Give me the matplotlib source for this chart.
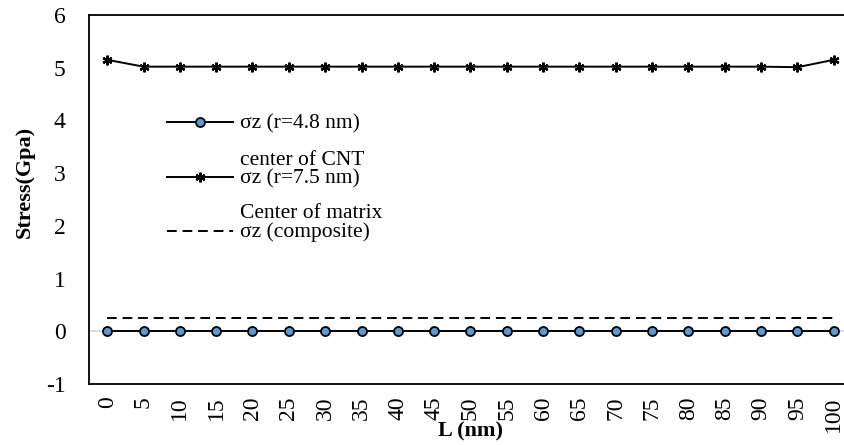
import matplotlib
matplotlib.use("Agg")
import matplotlib.pyplot as plt
from matplotlib.lines import Line2D

L_nm = [0, 5, 10, 15, 20, 25, 30, 35, 40, 45, 50, 55, 60, 65, 70, 75, 80, 85, 90, 95, 100]
sz_cnt = [0.0] * 21
sz_matrix = [5.15, 5.02, 5.02, 5.02, 5.02, 5.02, 5.02, 5.02, 5.02, 5.02, 5.02,
             5.02, 5.02, 5.02, 5.02, 5.02, 5.02, 5.02, 5.02, 5.01, 5.15]
sz_comp = [0.26] * 21
labels = ["\u03c3z (r=4.8 nm)", "center of CNT\n\u03c3z (r=7.5 nm)", "Center of matrix\n\u03c3z (composite)"]
yticks = [-1, 0, 1, 2, 3, 4, 5, 6]

plt.rcParams['font.family'] = ['Liberation Serif', 'DejaVu Serif']
W, H = 844, 445
fig = plt.figure(figsize=(W / 100, H / 100), dpi=100)
ax = fig.add_axes([89 / W, 1 - 384 / H, (852 - 89) / W, (384 - 15) / H])

x = list(range(len(L_nm)))
ax.axhline(0, color='#d9d9d9', lw=1.3, zorder=1)
ax.plot(x, sz_comp, color='black', lw=1.4, ls=(0, (5, 3)), zorder=2)
ax.plot(x, sz_matrix, color='black', lw=1.4, marker=(6, 2, 0), ms=7, mew=1.6, zorder=3)
ax.plot(x, sz_cnt, color='black', lw=1.4, marker='o', ms=6.5, mfc='#5b9bd5', mec='black', mew=1.3, zorder=4)

ax.set_xlim(-0.5, len(L_nm) - 0.5)
ax.set_ylim(-1, 6)
ax.set_yticks(yticks)
ax.set_yticklabels([str(v) for v in yticks], fontsize=17)
ax.set_xticks(x)
ax.set_xticklabels([str(v) for v in L_nm], rotation=90, fontsize=17)
ax.tick_params(axis='y', length=0, pad=17)
ax.tick_params(axis='x', length=0, pad=9)
for s in ['left', 'bottom', 'top']:
    ax.spines[s].set_color('black')
    ax.spines[s].set_linewidth(1.3)
ax.spines['right'].set_visible(False)

fig.text(25 / W, 1 - 182 / H, "Stress(Gpa)", rotation=90, ha='center', va='center',
         fontsize=16, fontweight='bold')
fig.text(470 / W, 1 - 431 / H, "L (nm)", ha='center', va='center', fontsize=16, fontweight='bold')

# manual legend
def fy(py):
    return 1 - py / H

handles = [
    dict(marker='o', mfc='#5b9bd5', mec='black', ls='-', ms=6.5, mew=1.3),
    dict(marker=(6, 2, 0), mfc='black', mec='black', ls='-', ms=7, mew=1.6),
    dict(marker=None, ls=(0, (5, 3))),
]
hy = [122, 177, 231]
for lab, h, py in zip(labels, handles, hy):
    kw = dict(h)
    ln = Line2D([167 / W, 233 / W], [fy(py), fy(py)], transform=fig.transFigure,
                color='black', lw=1.4, markevery=[], **kw)
    fig.add_artist(ln)
    if kw.get('marker') is not None:
        mk = Line2D([200 / W], [fy(py)], transform=fig.transFigure, color='black', lw=0, **kw)
        fig.add_artist(mk)
    fig.text(240 / W, fy(py + 11), lab, ha='left', va='bottom', fontsize=15.5, linespacing=0.92)

fig.savefig("out.png", dpi=100)
